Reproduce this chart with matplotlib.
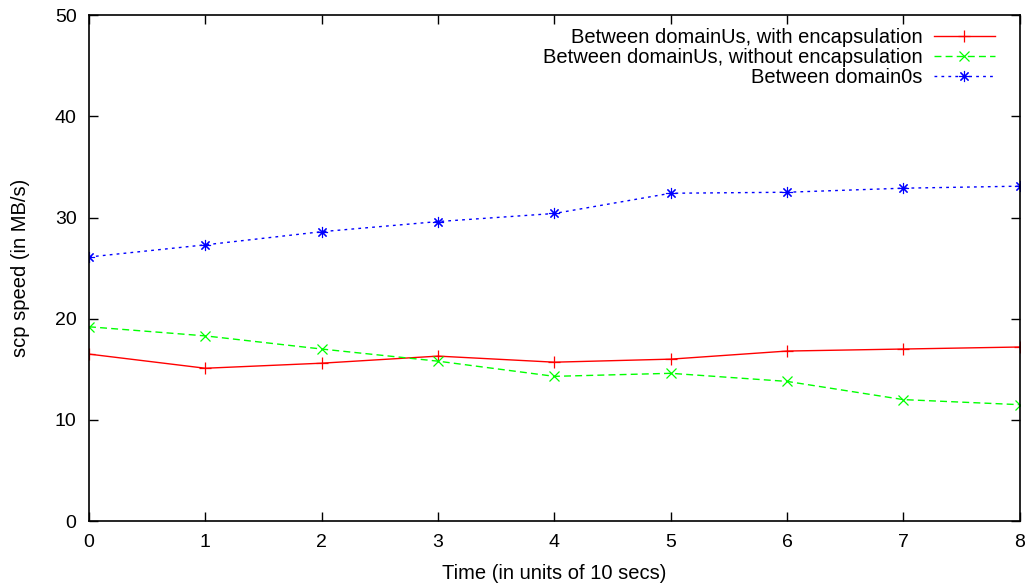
import matplotlib
matplotlib.use("Agg")
import matplotlib.pyplot as plt

plt.rcParams['font.family'] = ['Liberation Sans', 'DejaVu Sans']

time = [0, 1, 2, 3, 4, 5, 6, 7, 8]
with_encap = [16.5, 15.1, 15.6, 16.3, 15.7, 16.0, 16.8, 17.0, 17.2]
without_encap = [19.2, 18.3, 17.0, 15.8, 14.3, 14.6, 13.8, 12.0, 11.5]
domain0s = [26.1, 27.3, 28.6, 29.6, 30.4, 32.4, 32.5, 32.9, 33.1]

labels = ["Between domainUs, with encapsulation",
          "Between domainUs, without encapsulation",
          "Between domain0s"]

fig = plt.figure(figsize=(10.3, 5.85), dpi=100)
ax = fig.add_axes([0.0864, 0.1094, 0.9036, 0.8646])

ax.plot(time, with_encap, color='#ff0000', lw=1.0, ls='-', marker='+',
        markersize=9, markeredgewidth=0.9, label=labels[0])
ax.plot(time, without_encap, color='#00ff00', lw=1.0, ls=(0, (5, 3)), marker='x',
        markersize=7, markeredgewidth=0.9, label=labels[1])
ax.plot(time, domain0s, color='#0000ff', lw=1.0, ls=(0, (2, 3)), marker=(8, 2, 0),
        markersize=8, markeredgewidth=0.8, label=labels[2])

ax.set_xlim(0, 8)
ax.set_ylim(0, 50)
ax.set_xticks(range(0, 9))
ax.set_yticks(range(0, 51, 10))
ax.tick_params(direction='in', length=6.5, width=1, top=True, right=True,
               labelsize=14)
ax.tick_params(axis='x', pad=9)
ax.tick_params(axis='y', pad=9)
for s in ax.spines.values():
    s.set_linewidth(1.2)

ax.set_xlabel("Time (in units of 10 secs)", fontsize=14.5, labelpad=10)
ax.set_ylabel("scp speed (in MB/s)", fontsize=14.5, labelpad=18)

leg = ax.legend(loc='upper right', bbox_to_anchor=(0.9731, 0.9743),
                frameon=False, markerfirst=False,
                fontsize=14.5, handlelength=3.0, handletextpad=0.6,
                labelspacing=0.05, borderaxespad=0.0, borderpad=0.0)
for t in leg.get_texts():
    t.set_ha('right')
leg._legend_box.align = "right"

fig.savefig("out.png", dpi=100)
